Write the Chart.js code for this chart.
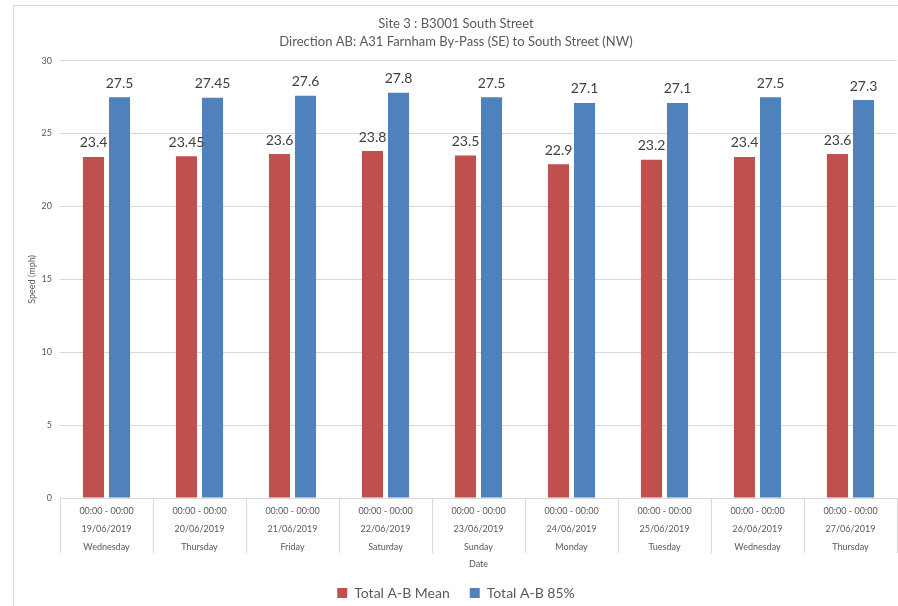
<!DOCTYPE html>
<html>
<head>
<meta charset="utf-8">
<script src="https://cdn.jsdelivr.net/npm/chart.js@4.4.0/dist/chart.umd.min.js"></script>
<style>
    body { margin: 0; background: #fff; }
    #frame { position: absolute; left: 13px; top: 5px; width: 885px; height: 601px; border-left: 1px solid #d9d9d9; border-top: 1px solid #d9d9d9; }
    #wrap { position: absolute; left: 0; top: 0; width: 898px; height: 606px; }
</style>
</head>
<body>
<div id="frame"></div>
<div id="wrap"><canvas id="chartSpeed"></canvas></div>
<script>
const times = ['00:00 - 00:00', '00:00 - 00:00', '00:00 - 00:00', '00:00 - 00:00', '00:00 - 00:00', '00:00 - 00:00', '00:00 - 00:00', '00:00 - 00:00', '00:00 - 00:00'];
const dates = ['19/06/2019', '20/06/2019', '21/06/2019', '22/06/2019', '23/06/2019', '24/06/2019', '25/06/2019', '26/06/2019', '27/06/2019'];
const days = ['Wednesday', 'Thursday', 'Friday', 'Saturday', 'Sunday', 'Monday', 'Tuesday', 'Wednesday', 'Thursday'];
const meanSpeed = [23.4, 23.45, 23.6, 23.8, 23.5, 22.9, 23.2, 23.4, 23.6];
const speed85 = [27.5, 27.45, 27.6, 27.8, 27.5, 27.1, 27.1, 27.5, 27.3];
const yTicks = [0, 5, 10, 15, 20, 25, 30];

// each category gets 3 label lines: time, date, day
var labels = [];
for (var i = 0; i < dates.length; i++) {
    labels.push([times[i], dates[i], days[i]]);
}

// value labels on top of each bar
const barValues = {
    id: 'barValues',
    afterDatasetsDraw: function (chart) {
        var ctx = chart.ctx;
        ctx.save();
        ctx.font = '14px Lato';
        ctx.fillStyle = '#404040';
        ctx.textAlign = 'center';
        ctx.textBaseline = 'bottom';
        chart.data.datasets.forEach(function (ds, d) {
            chart.getDatasetMeta(d).data.forEach(function (bar, k) {
                ctx.fillText(String(ds.data[k]), bar.x, bar.y - 7);
            });
        });
        ctx.restore();
    }
};

const speedChart = new Chart(
    document.getElementById('chartSpeed'), {
        type: 'bar',
        data: {
            labels: labels,
            datasets: [{
                label: 'Total A-B Mean',
                data: meanSpeed,
                backgroundColor: '#c0504d'
            }, {
                label: 'Total A-B 85%',
                data: speed85,
                backgroundColor: '#4f81bd'
            }]
        },
        options: {
            responsive: true,
            maintainAspectRatio: false,
            animation: false,
            categoryPercentage: 0.56,
            barPercentage: 0.81,
            layout: {
                padding: { left: 15, right: 1, top: 6, bottom: -4 }
            },
            plugins: {
                title: {
                    display: true,
                    text: ['Site 3 : B3001 South Street', 'Direction AB: A31 Farnham By-Pass (SE) to South Street (NW)'],
                    color: '#595959',
                    font: { family: 'Lato', size: 13, weight: 'normal', lineHeight: 1.45 },
                    padding: { top: 8, bottom: 9 }
                },
                legend: {
                    position: 'bottom',
                    labels: {
                        boxWidth: 10,
                        boxHeight: 10,
                        color: '#595959',
                        padding: 20,
                        font: { family: 'Lato', size: 14 }
                    }
                },
                tooltip: { enabled: false }
            },
            scales: {
                x: {
                    grid: {
                        offset: true,
                        drawOnChartArea: false,
                        tickLength: 55,
                        color: '#d9d9d9'
                    },
                    border: { color: '#d9d9d9' },
                    ticks: {
                        color: '#595959',
                        padding: -51,
                        maxRotation: 0,
                        autoSkip: false,
                        font: { family: 'Lato', size: 9, lineHeight: 2 }
                    },
                    title: {
                        display: true,
                        text: 'Date',
                        color: '#595959',
                        font: { family: 'Lato', size: 9 },
                        padding: { top: 0, bottom: -3 }
                    },
                    afterFit: function (scale) { scale.height = 68; }
                },
                y: {
                    min: 0,
                    max: 30,
                    afterBuildTicks: function (scale) {
                        scale.ticks = yTicks.map(function (v) { return { value: v }; });
                    },
                    grid: { color: '#d9d9d9', drawTicks: false },
                    border: { display: false },
                    ticks: {
                        color: '#595959',
                        padding: 8,
                        font: { family: 'Lato', size: 9 }
                    },
                    title: {
                        display: true,
                        text: 'Speed (mph)',
                        color: '#595959',
                        font: { family: 'Lato', size: 9 },
                        padding: { top: 12, bottom: 0 }
                    },
                    afterFit: function (scale) { scale.width = 45; }
                }
            }
        },
        plugins: [barValues]
    }
);
</script>
</body>
</html>
